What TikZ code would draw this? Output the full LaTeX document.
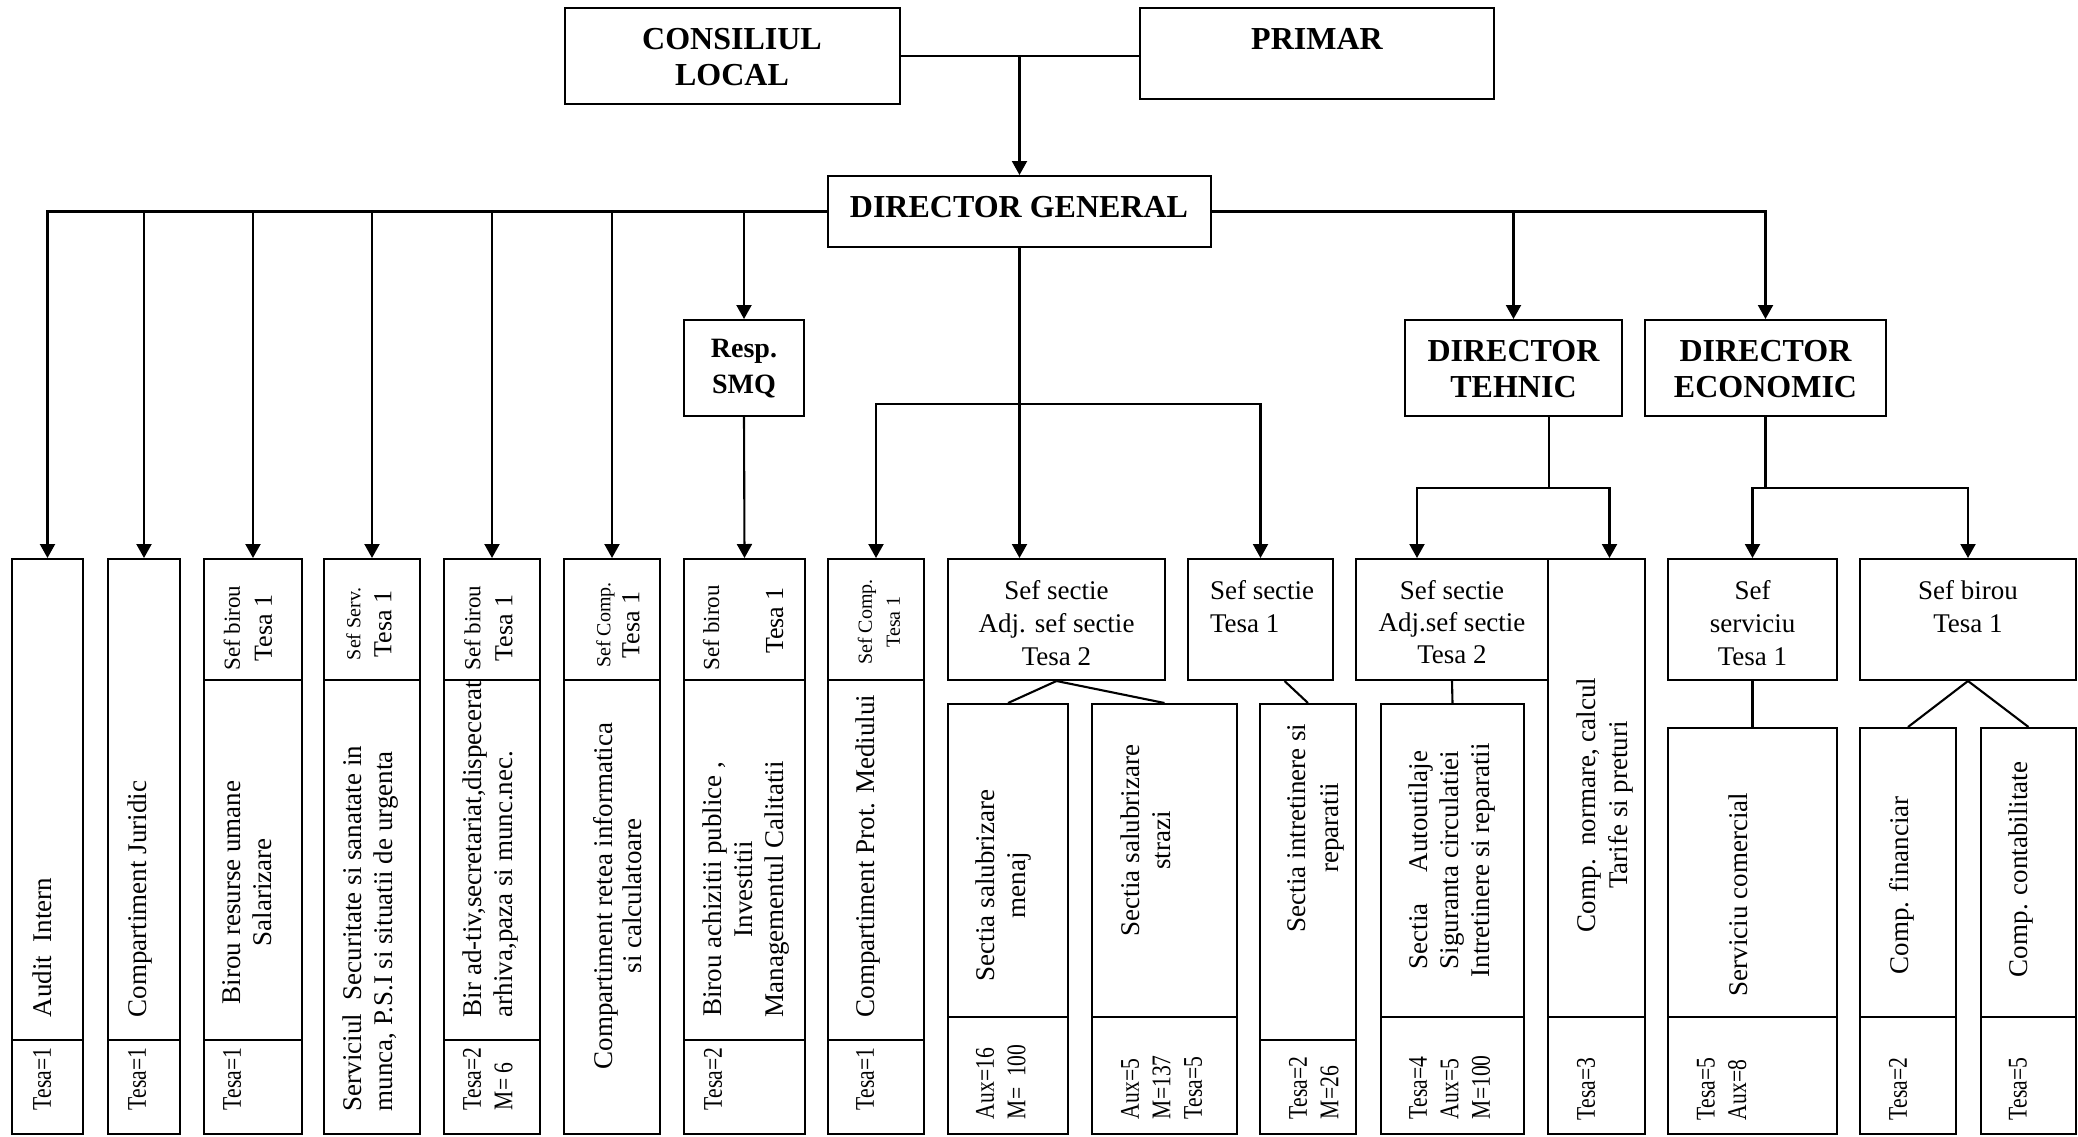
\documentclass[tikz,border=0pt]{standalone}
\usepackage{fontspec}
\setmainfont{Liberation Serif}
\newfontfamily\narrowserif[FakeStretch=0.8]{Liberation Serif}
\usetikzlibrary{arrows.meta, fit}

\begin{document}
\begin{tikzpicture}[x=1pt, y=-1pt, line width=2pt]
      \tikzstyle{cell} = [
        draw,
        rectangle,
        inner sep = 0pt
      ]

      \tikzstyle{boss} = [
        font = \bfseries\fontsize{32}{36}\selectfont,
        align = center,
        inner sep = 0pt
      ]

      \tikzstyle{vlabel} = [
        rotate = 90,
        anchor = north west,
        align = center,
        inner sep = 0pt,
        font = \fontsize{27}{31}\selectfont
      ]

      \tikzstyle{vhead} = [
        rotate = 90,
        align = center,
        inner sep = 0pt,
        font = \fontsize{26}{32}\selectfont
      ]

      \tikzstyle{tally} = [
        rotate = 90,
        anchor = north west,
        align = left,
        inner sep = 0pt,
        font = \narrowserif\fontsize{27}{31.5}\selectfont
      ]

      \tikzstyle{hlabel} = [
        anchor = north,
        align = center,
        inner sep = 0pt,
        font = \fontsize{27}{33}\selectfont
      ]

      \tikzstyle{link} = [line width = 2.1pt]
      \tikzstyle{arrow} = [
        line width = 2.1pt,
        -{Triangle[length=14pt, width=15pt]}
      ]

      \useasboundingbox (0,0) rectangle (2078,1136);

      % top level
      \node[cell, fit={(565,8) (900,104)}] (consiliul) {};
      \node[cell, fit={(1140,8) (1494,99)}] (primar) {};
      \node[cell, fit={(828,176) (1211,247)}] (dirgen) {};
      \node[cell, fit={(684,320) (804,416)}] (smq) {};
      \node[cell, fit={(1405,320) (1622,416)}] (dirteh) {};
      \node[cell, fit={(1645,320) (1886,416)}] (direco) {};

      \node[boss, anchor=north] (lblconsiliul) at (732,27.5) {CONSILIUL\\LOCAL};
      \node[boss, anchor=base] (lblprimar) at (1317,49) {PRIMAR};
      \node[boss, anchor=base] (lbldirgen) at (1019,217) {DIRECTOR GENERAL};
      \node[boss, anchor=north, font=\bfseries\fontsize{28}{36}\selectfont]
        (lblsmq) at (744,338) {Resp.\\SMQ};
      \node[boss, anchor=north] (lbldirteh) at (1513.5,339.5) {DIRECTOR\\TEHNIC};
      \node[boss, anchor=north] (lbldireco) at (1765.5,339.5) {DIRECTOR\\ECONOMIC};

      % compartimente
      \node[cell, fit={(12,559) (83,1040)}] (audit) {};
      \node[cell, fit={(12,1040) (83,1134)}] (auditf) {};
      \node[cell, fit={(108,559) (180,1040)}] (juridic) {};
      \node[cell, fit={(108,1040) (180,1134)}] (juridicf) {};
      \node[cell, fit={(204,559) (302,680)}] (resursehdr) {};
      \node[cell, fit={(204,680) (302,1040)}] (resurse) {};
      \node[cell, fit={(204,1040) (302,1134)}] (resursef) {};
      \node[cell, fit={(324,559) (420,680)}] (securhdr) {};
      \node[cell, fit={(324,680) (420,1134)}] (secur) {};
      \node[cell, fit={(444,559) (540,680)}] (adtivhdr) {};
      \node[cell, fit={(444,680) (540,1040)}] (adtiv) {};
      \node[cell, fit={(444,1040) (540,1134)}] (adtivf) {};
      \node[cell, fit={(564,559) (660,680)}] (reteahdr) {};
      \node[cell, fit={(564,680) (660,1134)}] (retea) {};
      \node[cell, fit={(684,559) (805,680)}] (achizhdr) {};
      \node[cell, fit={(684,680) (805,1040)}] (achiz) {};
      \node[cell, fit={(684,1040) (805,1134)}] (achizf) {};
      \node[cell, fit={(828,559) (924,680)}] (mediuhdr) {};
      \node[cell, fit={(828,680) (924,1040)}] (mediu) {};
      \node[cell, fit={(828,1040) (924,1134)}] (mediuf) {};

      \node[cell, fit={(948,559) (1165,680)}] (salhdr) {};
      \node[cell, fit={(948,704) (1068,1017)}] (menaj) {};
      \node[cell, fit={(948,1017) (1068,1134)}] (menajf) {};
      \node[cell, fit={(1092,704) (1237,1017)}] (strazi) {};
      \node[cell, fit={(1092,1017) (1237,1134)}] (strazif) {};
      \node[cell, fit={(1188,559) (1333,680)}] (sec1hdr) {};
      \node[cell, fit={(1260,704) (1356,1040)}] (intret) {};
      \node[cell, fit={(1260,1040) (1356,1134)}] (intretf) {};
      \node[cell, fit={(1356,559) (1548,680)}] (sec2hdr) {};
      \node[cell, fit={(1381,704) (1524,1017)}] (autout) {};
      \node[cell, fit={(1381,1017) (1524,1134)}] (autoutf) {};
      \node[cell, fit={(1548,559) (1645,1017)}] (normare) {};
      \node[cell, fit={(1548,1017) (1645,1134)}] (normaref) {};

      \node[cell, fit={(1668,559) (1837,680)}] (servhdr) {};
      \node[cell, fit={(1668,728) (1837,1017)}] (comerc) {};
      \node[cell, fit={(1668,1017) (1837,1134)}] (comercf) {};
      \node[cell, fit={(1860,559) (2076,680)}] (birhdr) {};
      \node[cell, fit={(1860,728) (1956,1017)}] (financ) {};
      \node[cell, fit={(1860,1017) (1956,1134)}] (financf) {};
      \node[cell, fit={(1981,728) (2076,1017)}] (contab) {};
      \node[cell, fit={(1981,1017) (2076,1134)}] (contabf) {};

      % headers
      \node[vhead] (lblresursehdr) at (248,628)
        {{\fontsize{23}{32}\selectfont Sef birou}\\Tesa 1};
      \node[vhead, font=\fontsize{26}{31}\selectfont] (lblsecurhdr) at (369,624)
        {{\fontsize{20}{31}\selectfont Sef Serv.}\\Tesa 1};
      \node[vhead] (lbladtivhdr) at (488.5,628)
        {{\fontsize{23}{32}\selectfont Sef birou}\\Tesa 1};
      \node[vhead, font=\fontsize{26}{29}\selectfont] (lblreteahdr) at (618,625)
        {{\fontsize{20}{29}\selectfont Sef Comp.}\\Tesa 1};
      \node[vhead, anchor=north west, font=\fontsize{23}{32}\selectfont]
        (lblachizhdr) at (702,671) {Sef birou};
      \node[vhead, anchor=north east] (lblachiztesa) at (765,586) {Tesa 1};
      \node[vhead, font=\fontsize{20}{28}\selectfont] (lblmediuhdr) at (879,622)
        {Sef Comp.\\Tesa 1};

      \node[hlabel] (lblsalhdr) at (1056.5,579) {Sef sectie\\Adj. sef sectie\\Tesa 2};
      \node[hlabel, anchor=north west, align=left] (lblsec1hdr) at (1209,579)
        {Sef sectie\\Tesa 1};
      \node[hlabel, font=\fontsize{27}{32}\selectfont] (lblsec2hdr) at (1452,579)
        {Sef sectie\\Adj.sef sectie\\Tesa 2};
      \node[hlabel] (lblservhdr) at (1752.5,579) {Sef\\serviciu\\Tesa 1};
      \node[hlabel] (lblbirhdr) at (1968,579) {Sef birou\\Tesa 1};

      % texte
      \node[vlabel] (lblaudit) at (32,1018) {Audit\ \ Intern};
      \node[vlabel] (lbljuridic) at (127,1018) {Compartiment Juridic};
      \node[vlabel] (lblresurse) at (222,1005) {Birou resurse umane\\Salarizare};
      \node[vlabel, align=left] (lblsecur) at (342,1112)
        {Serviciul\ \ Securitate si sanatate in\\munca, P.S.I si situatii de urgenta};
      \node[vlabel, align=left] (lbladtiv) at (462,1018)
        {Bir ad-tiv,secretariat,dispecerat\\arhiva,paza si munc.nec.};
      \node[vlabel, font=\fontsize{27}{29}\selectfont] (lblretea) at (592,1070)
        {Compartiment retea informatica\\si calculatoare};
      \node[vlabel] (lblachiz) at (702,1018)
        {Birou achizitii publice ,\\Investitii\\Managementul Calitatii};
      \node[vlabel] (lblmediu) at (855,1018) {Compartiment Prot. Mediului};
      \node[vlabel] (lblmenaj) at (975,982) {Sectia salubrizare\\menaj};
      \node[vlabel] (lblstrazi) at (1120,937) {Sectia salubrizare\\strazi};
      \node[vlabel, font=\fontsize{27}{33}\selectfont] (lblintret) at (1287,933)
        {Sectia intretinere si\\reparatii};
      \node[vlabel] (lblautout) at (1408,978)
        {Sectia\hspace{0.9em} Autoutilaje\\Siguranta circulatiei\\Intretinere si reparatii};
      \node[vlabel, font=\fontsize{27}{32}\selectfont] (lblnormare) at (1576,933)
        {Comp.\ \ normare, calcul\\Tarife si preturi};
      \node[vlabel] (lblcomerc) at (1728,997) {Serviciu comercial};
      \node[vlabel] (lblfinanc) at (1888,975) {Comp. financiar};
      \node[vlabel] (lblcontab) at (2008,978) {Comp. contabilitate};

      % personal
      \node[tally] (lblauditf) at (32,1111) {Tesa=1};
      \node[tally] (lbljuridicf) at (127,1111) {Tesa=1};
      \node[tally] (lblresursef) at (222,1111) {Tesa=1};
      \node[tally] (lbladtivf) at (462,1111) {Tesa=2\\M= 6};
      \node[tally] (lblachizf) at (703,1111) {Tesa=2};
      \node[tally] (lblmediuf) at (855,1111) {Tesa=1};
      \node[tally] (lblmenajf) at (975,1120) {Aux=16\\M=\ \ 100};
      \node[tally] (lblstrazif) at (1120,1120) {Aux=5\\M=137\\Tesa=5};
      \node[tally] (lblintretf) at (1288,1120) {Tesa=2\\M=26};
      \node[tally] (lblautoutf) at (1408,1120) {Tesa=4\\Aux=5\\M=100};
      \node[tally] (lblnormaref) at (1576,1121) {Tesa=3};
      \node[tally] (lblcomercf) at (1696,1121) {Tesa=5\\Aux=8};
      \node[tally] (lblfinancf) at (1888,1121) {Tesa=2};
      \node[tally] (lblcontabf) at (2008,1121) {Tesa=5};

      % legaturi
      \draw[link] (consiliul.east) -- (consiliul.east -| primar.west);
      \draw[arrow] (consiliul.east -| dirgen.north) -- (dirgen.north);

      \draw[arrow] (dirgen.west) -| (audit.north);
      \draw[arrow] (dirgen.west) -| (juridic.north);
      \draw[arrow] (dirgen.west) -| (resursehdr.north);
      \draw[arrow] (dirgen.west) -| (securhdr.north);
      \draw[arrow] (dirgen.west) -| (adtivhdr.north);
      \draw[arrow] (dirgen.west) -| (reteahdr.north);
      \draw[arrow] (dirgen.west) -| (smq.north);
      \draw[arrow] (smq.south) -- (achizhdr.north);
      \draw[arrow] (dirgen.east) -| (dirteh.north);
      \draw[arrow] (dirgen.east) -| (direco.north);

      \coordinate (genbus) at (dirgen.south |- 0,404);
      \draw[arrow] (dirgen.south) -- (dirgen.south |- salhdr.north);
      \draw[arrow] (genbus) -| (mediuhdr.north);
      \draw[arrow] (genbus) -| (sec1hdr.north);

      \coordinate (tehbus) at (1549,488);
      \draw[link] (dirteh.south -| tehbus) -- (tehbus);
      \draw[arrow] (tehbus) -| ([xshift=62pt]sec2hdr.north west);
      \draw[arrow] (tehbus) -| ([xshift=13pt]normare.north);

      \coordinate (ecobus) at (direco.south |- tehbus);
      \draw[link] (direco.south) -- (ecobus);
      \draw[arrow] (ecobus) -| (servhdr.north);
      \draw[arrow] (ecobus) -| (birhdr.north);

      \draw[link] (salhdr.south) -- (menaj.north);
      \draw[link] (salhdr.south) -- (strazi.north);
      \draw[link] ([xshift=24pt]sec1hdr.south) -- (intret.north);
      \draw[link] (sec2hdr.south) -- (autout.north);
      \draw[link] (servhdr.south) -- (comerc.north);
      \draw[link] (birhdr.south) -- (financ.north);
      \draw[link] (birhdr.south) -- (contab.north);
    \end{tikzpicture}
\end{document}
